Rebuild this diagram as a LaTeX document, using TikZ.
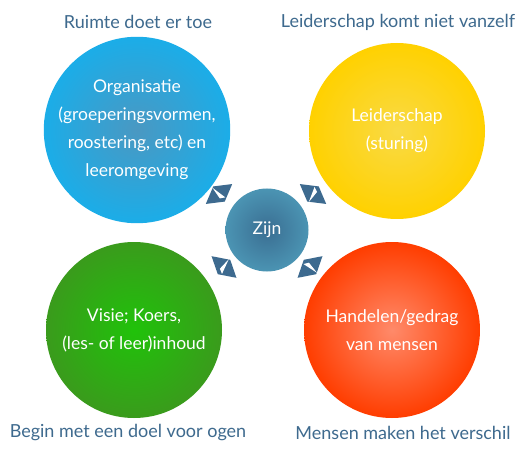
\documentclass[tikz,border=0pt]{standalone}
\usepackage{fontspec}
\setmainfont{Lato}
\begin{document}
\begin{tikzpicture}[x=1pt,y=-1pt,
  bubble/.style={circle,minimum size=176pt,inner sep=0pt,text=white,align=center,
    font=\fontsize{17.5}{28}\selectfont},
  hub/.style={circle,minimum size=83pt,inner sep=0pt,text=white,
    font=\fontsize{17.5}{20}\selectfont,inner color=hubIn,outer color=hubOut},
  caption/.style={text=capCol,font=\fontsize{18}{20}\selectfont,inner sep=0pt},
]
\definecolor{capCol}{HTML}{3E6A8E}
\definecolor{arrCol}{HTML}{3D6A8F}
\definecolor{blueOut}{HTML}{1BADE8}
\definecolor{blueIn}{HTML}{4A98C2}
\definecolor{yelOut}{HTML}{FFD100}
\definecolor{yelIn}{HTML}{F9DA45}
\definecolor{redOut}{HTML}{FF3D00}
\definecolor{redIn}{HTML}{FF8A6A}
\definecolor{grnOut}{HTML}{3A9B1C}
\definecolor{grnIn}{HTML}{20C20A}
\definecolor{hubOut}{HTML}{4B94B3}
\definecolor{hubIn}{HTML}{3A6E92}
\useasboundingbox (0,0) rectangle (532,462);
\fill[white] (0,0) rectangle (532,462);

\node[bubble,inner color=blueIn,outer color=blueOut] (org) at (137,130)
  {Organisatie\\(groeperingsvormen,\\roostering, etc) en\\leeromgeving};
\node[bubble,inner color=yelIn,outer color=yelOut] (lead) at (397,131)
  {Leiderschap\\(sturing)};
\node[bubble,inner color=grnIn,outer color=grnOut] (vis) at (134,330)
  {Visie; Koers,\\(les- of leer)inhoud};
\node[bubble,inner color=redIn,outer color=redOut] (hand) at (392,330)
  {Handelen/gedrag\\van mensen};
\node[hub] (zijn) at (267,230) {Zijn};

\node[caption] (c1) at (138,22) {Ruimte doet er toe};
\node[caption] (c2) at (398,22) {Leiderschap komt niet vanzelf};
\node[caption] (c3) at (128,433) {Begin met een doel voor ogen};
\node[caption] (c4) at (403,433) {Mensen maken het verschil};

% double arrow markers
\foreach \px/\py/\a in {219/194/143, 313/194/37, 224/267/-139, 310/267/-41}{
  \begin{scope}[shift={(\px,\py)},rotate=-\a]
    \fill[arrCol] (16.5,0) -- (0,9.5) -- (-16.5,0) -- (0,-9.5) -- cycle;
    \fill[white] (1.5,9) -- (-3,-6.5) -- (2,-4) -- cycle;
  \end{scope}
}
\end{tikzpicture}
\end{document}
